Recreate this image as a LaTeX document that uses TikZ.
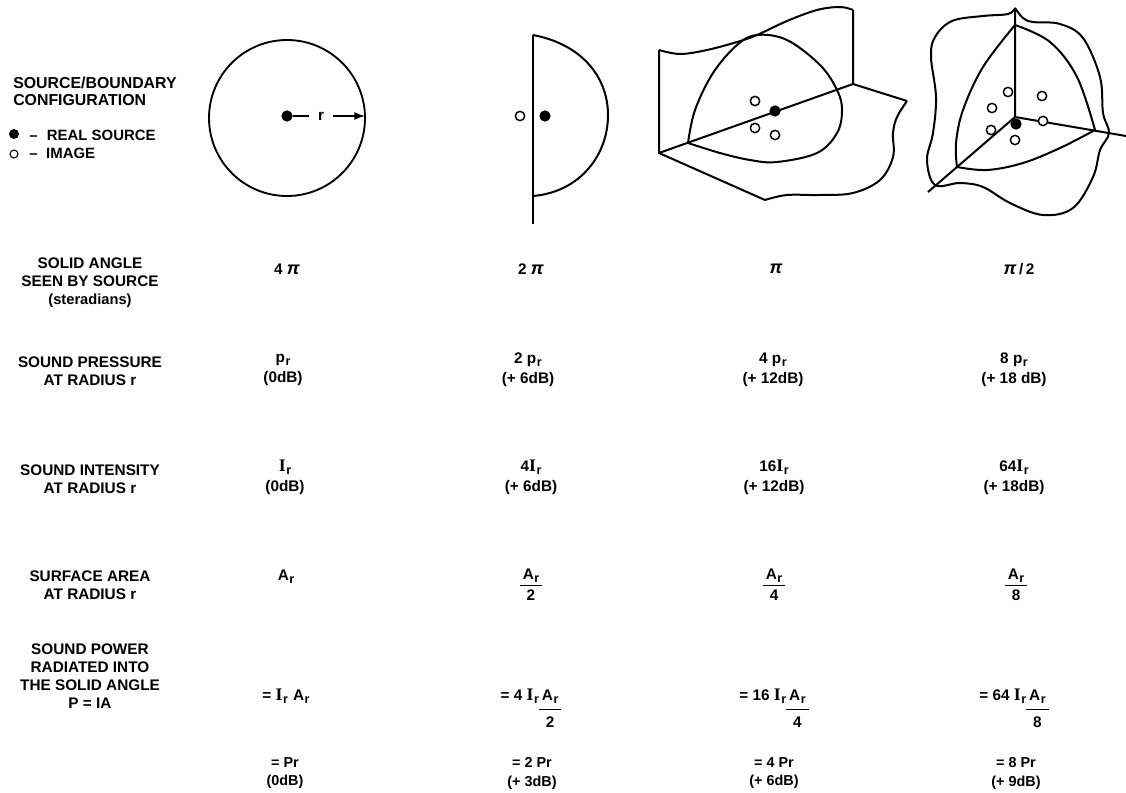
\documentclass[tikz,border=0pt]{standalone}
\usepackage{fontspec}
\setmainfont{Liberation Sans}
\newfontfamily\slabface{Liberation Serif}
\usetikzlibrary{
  arrows.meta,
  positioning
}
\setlength{\arrayrulewidth}{0.8pt}
\newcommand{\subr}{\kern0.4pt\raisebox{-0.2em}{\scalebox{.82}{r}}}
\newcommand{\Ir}{\scalebox{1.15}{\slabface I}\subr}
\newcommand{\piglyph}{{\fontsize{13.5}{13.5}\selectfont\textit{π}}}
\newcommand{\overunder}[4]{\begin{tabular}[t]{@{\kern2.2pt}c@{\kern2.2pt}}#1\\[#3]\hline\rule{0pt}{#4}#2\end{tabular}}

\begin{document}
\begin{tikzpicture}[
  x=0.75pt, y=-0.75pt,
  every node/.style={font=\fontsize{11.5}{13.5}\selectfont\bfseries, inner sep=0pt},
  rowlabel/.style={align=center},
  cell/.style={align=center, font=\fontsize{11.5}{15}\selectfont\bfseries},
  bigcell/.style={align=center, font=\fontsize{10.8}{14.2}\selectfont\bfseries},
  legendtext/.style={anchor=west, align=left, font=\fontsize{11.2}{12.9}\selectfont\bfseries},
  boundary/.style={line width=1.5pt, line join=round},
  sourcept/.style={circle, fill=black, minimum size=8.5pt},
  imagept/.style={circle, draw=black, line width=1.1pt, fill=white, minimum size=7pt},
]

\useasboundingbox (0,0) rectangle (1126,792);

\node[legendtext, font=\fontsize{11.9}{12.9}\selectfont\bfseries] (hdr) at (13,91) {SOURCE/BOUNDARY\\CONFIGURATION};
\node[sourcept, minimum size=7.5pt] (lsrc) at (14,134) {};
\node[legendtext] (lsrct) at (29,135) {--\hspace{7pt}REAL SOURCE};
\node[imagept, minimum size=6pt, line width=0.8pt] (limg) at (14,154) {};
\node[legendtext] (limgt) at (29,153) {--\hspace{6.5pt}IMAGE};

\node[circle, draw=black, line width=1.4pt, minimum size=117pt] (sphere) at (287,118) {};
\node[sourcept] (src1) at (287,116) {};
\coordinate (rim) at (365,116);
\draw[line width=1.1pt, -{Latex[length=8pt,width=6pt]}] (src1) -- node[pos=.39, fill=white, inner xsep=7pt, inner ysep=2pt] (rlab) {r} (rim);

\draw[boundary] (533,35) -- (533,224);
\draw[boundary] (533,35) .. controls (585,45) and (608,80) .. (608,115)
  .. controls (608,155) and (580,192) .. (533,196);
\node[imagept] (img2) at (520,116) {};
\node[sourcept] (src2) at (545,116) {};

\draw[boundary] plot[smooth, tension=.6] coordinates {(659,50) (680,54) (707,50) (737,42) (757,35) (787,21) (817,10) (840,7) (853,10)};
\draw[boundary] (659,50) -- (659,153) -- (853,84) -- (853,10);
\draw[boundary] (853,84) -- (907,101);
\draw[boundary] (659,153) -- (765,200);
\draw[boundary] plot[smooth, tension=.6] coordinates {(907,101) (897,117) (893,133) (893,157) (880,180) (853,193) (820,195) (787,195) (765,200)};
\draw[boundary] plot[smooth, tension=.6] coordinates {(688,143) (695,110) (713,73) (737,45) (757,35) (787,40) (820,65) (837,90) (842,110) (837,133) (817,153) (777,162) (750,160) (720,153) (688,143)};
\node[sourcept] (src3) at (775,111) {};
\node[imagept] (img3a) at (755,101) {};
\node[imagept] (img3b) at (755,128) {};
\node[imagept] (img3c) at (775,135) {};

\draw[boundary] plot[smooth, tension=.6] coordinates {(1015,8) (1008,14) (983,16) (952,21) (935,37) (931,57) (936,97) (933,133) (927,160) (935,185) (960,183) (983,187) (1010,203) (1043,215) (1073,208) (1093,177) (1100,150) (1109,133) (1103,113) (1100,77) (1083,38) (1060,24) (1033,22) (1023,18) (1015,8)};
\draw[boundary] (1015,8) -- (1015,117) -- (928,192);
\draw[boundary] (1015,117) -- (1126,136);
\draw[boundary] plot[smooth, tension=.6] coordinates {(1015,25) (983,67) (963,110) (956,143) (957,167)};
\draw[boundary] plot[smooth, tension=.6] coordinates {(1015,25) (1050,42) (1077,77) (1095,130)};
\draw[boundary] plot[smooth, tension=.6] coordinates {(957,167) (987,170) (1023,163) (1060,148) (1095,130)};
\node[sourcept] (src4) at (1016,124) {};
\node[imagept] (img4a) at (1008,92) {};
\node[imagept] (img4b) at (992,108) {};
\node[imagept] (img4c) at (991,130) {};
\node[imagept] (img4d) at (1042,96) {};
\node[imagept] (img4e) at (1043,121) {};
\node[imagept] (img4f) at (1015,140) {};

\node[rowlabel] (angle) at (90,283) {SOLID ANGLE\\SEEN BY SOURCE\\{\fontsize{11}{13.5}\selectfont (steradians)}};
\node[cell] (angle1) at (287,269) {4 \piglyph};
\node[cell] (angle2) at (531,269) {2 \piglyph};
\node[cell] (angle3) at (776,269) {\piglyph};
\node[cell] (angle4) at (1019,269) {\piglyph\,/\,2};

\node[rowlabel] (press) at (90,371) {SOUND PRESSURE\\AT RADIUS r};
\node[cell] (press1) at (283,370) {p\subr\\(0dB)};
\node[cell] (press2) at (528,370) {2 p\subr\\(+ 6dB)};
\node[cell] (press3) at (773,370) {4 p\subr\\(+ 12dB)};
\node[cell] (press4) at (1014,370) {8 p\subr\\(+ 18 dB)};

\node[rowlabel] (inten) at (90,479) {SOUND INTENSITY\\AT RADIUS r};
\node[cell] (inten1) at (285,477) {\Ir\\(0dB)};
\node[cell] (inten2) at (531,477) {4\Ir\\(+ 6dB)};
\node[cell] (inten3) at (774,477) {16\Ir\\(+ 12dB)};
\node[cell] (inten4) at (1014,477) {64\Ir\\(+ 18dB)};

\node[rowlabel] (area) at (90,585) {SURFACE AREA\\AT RADIUS r};
\node[cell] (area1) at (286,577) {A\subr};
\node[cell, anchor=base] (area2) at (531,579) {\overunder{A\subr}{2}{0.2pt}{10.2pt}};
\node[cell, anchor=base] (area3) at (774,579) {\overunder{A\subr}{4}{0.2pt}{10.2pt}};
\node[cell, anchor=base] (area4) at (1016,579) {\overunder{A\subr}{8}{0.2pt}{10.2pt}};

\node[rowlabel] (power) at (90,676) {SOUND POWER\\RADIATED INTO\\THE SOLID ANGLE\\P = IA};
\node[cell, anchor=base] (power1) at (286,700) {= \Ir\,\,A\subr};
\node[cell, anchor=base] (power2) at (531,700) {= 4 \Ir\overunder{A\subr}{2}{2.2pt}{13.25pt}};
\node[cell, anchor=base] (power3) at (774,700) {= 16 \Ir\overunder{A\subr}{4}{2.2pt}{13.25pt}};
\node[cell, anchor=base] (power4) at (1014,700) {= 64 \Ir\overunder{A\subr}{8}{2.2pt}{13.25pt}};

\node[bigcell] (total1) at (285,773) {= Pr\\(0dB)};
\node[bigcell] (total2) at (532,773) {= 2 Pr\\(+ 3dB)};
\node[bigcell] (total3) at (774,773) {= 4 Pr\\(+ 6dB)};
\node[bigcell] (total4) at (1016,773) {= 8 Pr\\(+ 9dB)};

\end{tikzpicture}
\end{document}
